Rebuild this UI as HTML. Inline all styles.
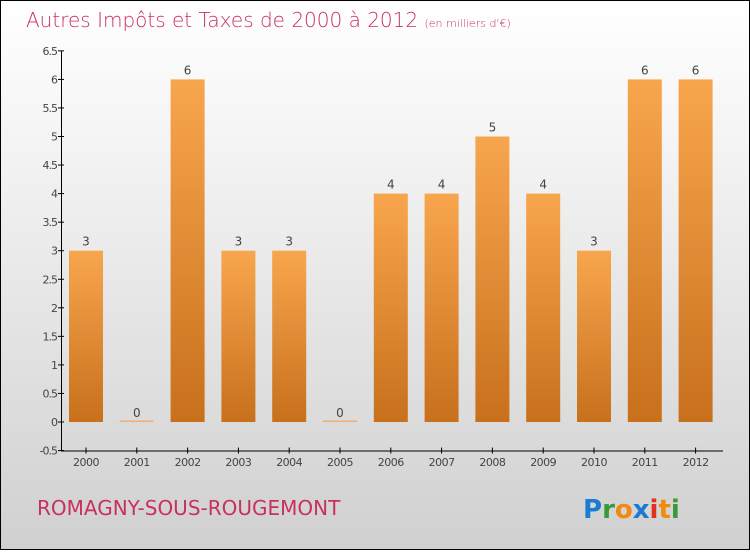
<!DOCTYPE html>
<html><head><meta charset="utf-8"><style>
body{margin:0}
#c{width:748px;height:548px;border:1px solid #000;background:linear-gradient(#fff,#f2f2f2 30%,#d0d0d0);position:relative;font-family:"DejaVu Sans","Liberation Sans",sans-serif}
</style></head><body>
<div id="c">
<svg id="s" width="748" height="548">
<defs><linearGradient id="g" x1="0" y1="0" x2="0" y2="1"><stop offset="0" stop-color="#f8a64e"/><stop offset="1" stop-color="#c8701c"/></linearGradient></defs>
<text x="25" y="26" font-size="20" fill="#c8315e" font-weight="200">Autres Impôts et Taxes de 2000 à 2012 <tspan font-size="11">(en milliers d'€)</tspan></text>
<text x="36" y="514" font-size="20" fill="#c8315e">ROMAGNY-SOUS-ROUGEMONT</text>
<text x="582" y="517" font-size="26" font-weight="bold"><tspan fill="#1a7bd0">P</tspan><tspan fill="#3a9a3a">r</tspan><tspan fill="#f08a10">o</tspan><tspan fill="#1a7bd0">x</tspan><tspan fill="#e03020">i</tspan><tspan fill="#f08a10">t</tspan><tspan fill="#3a9a3a">i</tspan></text>
<g id="plot"></g>
</svg></div>
<script>
const categories=["2000","2001","2002","2003","2004","2005","2006","2007","2008","2009","2010","2011","2012"];
const values=[3,0,6,3,3,0,4,4,5,4,3,6,6];
const yTicks=[-0.5,0,0.5,1,1.5,2,2.5,3,3.5,4,4.5,5,5.5,6,6.5];
const NS="http://www.w3.org/2000/svg";
const g=document.getElementById('plot');
const y=v=>421-v*57.1;
const x=i=>85+i*50.8;
function mk(t,a,p){const e=document.createElementNS(NS,t);for(const k in a)e.setAttribute(k,a[k]);(p||g).appendChild(e);return e;}
const ax=mk('line',{x1:60.5,y1:y(6.5),x2:60.5,y2:y(-0.5),stroke:'#000'});


const bx=mk('line',{x1:60,y1:y(-0.5)+0.5,x2:722,y2:y(-0.5)+0.5,stroke:'#000'});


yTicks.forEach(t=>{
 mk('line',{x1:57,x2:63,y1:y(t),y2:y(t),stroke:'#000'});
 const e=mk('text',{x:56,y:y(t)+4,'text-anchor':'end','font-size':11,fill:'#444','letter-spacing':'-1'});
 e.textContent=t;
 
 
});
categories.forEach((c,i)=>{
 const cx=x(i);
 mk('line',{x1:cx,x2:cx,y1:y(-0.5)-3,y2:y(-0.5)+3,stroke:'#000'});
 const l=mk('text',{x:cx,y:465,'text-anchor':'middle','font-size':11,fill:'#444','letter-spacing':'-0.5'});
 l.textContent=c;
 
 
 const v=values[i];
 const h=Math.max(y(0)-y(v),1.5);
 const b=mk('rect',{x:cx-17,y:y(0)-h,width:34,height:h,fill:v?'url(#g)':'#f0b070'});
 
 
 const t=mk('text',{x:cx,y:y(v)-5,'text-anchor':'middle','font-size':12,fill:'#444'});
 t.textContent=v;
 
 
});
</script>
</body></html>
